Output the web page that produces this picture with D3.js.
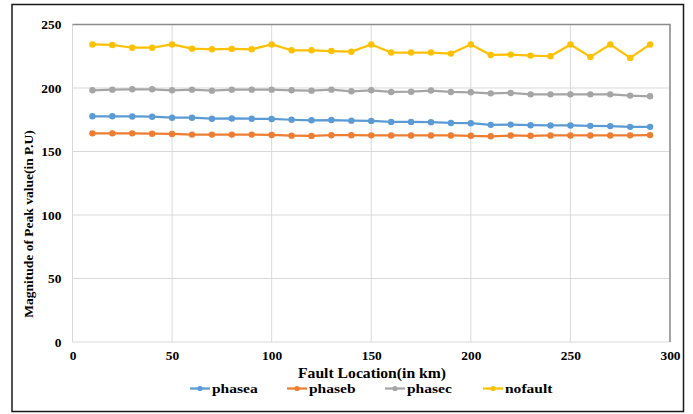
<!DOCTYPE html>
<html>
<head>
<meta charset="utf-8">
<script src="https://cdn.jsdelivr.net/npm/d3@7"></script>
<style>
  html, body { margin: 0; padding: 0; background: #fff; }
  svg { display: block; }
  text { font-family: "Liberation Serif", "Times New Roman", serif; font-weight: bold; fill: #000; }
</style>
</head>
<body>
<svg id="chart" width="693" height="414"></svg>
<script>
// Fault location along the line (km)
const faultKm = [10, 20, 30, 40, 50, 60, 70, 80, 90, 100, 110, 120, 130, 140, 150,
                 160, 170, 180, 190, 200, 210, 220, 230, 240, 250, 260, 270, 280, 290];

// Peak magnitude (P.U) for each case
const phasea = [177.7, 177.7, 177.6, 177.4, 176.6, 176.6, 175.8, 176.0, 175.8, 175.6, 175.0, 174.6, 174.8, 174.3, 174.1,
                173.3, 173.3, 173.1, 172.5, 172.3, 171.0, 171.2, 170.7, 170.5, 170.5, 170.2, 170.0, 169.4, 169.4];
const phaseb = [164.3, 164.3, 164.3, 164.0, 163.8, 163.3, 163.3, 163.3, 163.3, 163.0, 162.5, 162.3, 162.8, 162.8, 162.7,
                162.6, 162.6, 162.6, 162.6, 162.4, 162.0, 162.6, 162.4, 162.6, 162.6, 162.6, 162.6, 162.7, 162.9];
const phasec = [198.2, 198.7, 199.0, 199.0, 198.2, 198.7, 197.9, 198.7, 198.7, 198.7, 198.2, 197.9, 198.7, 197.4, 198.2,
                196.9, 197.1, 198.0, 196.9, 196.6, 195.8, 196.1, 195.0, 195.0, 195.0, 195.0, 195.0, 194.0, 193.5];
const nofault = [234.3, 233.9, 231.7, 231.7, 234.3, 231.0, 230.5, 230.8, 230.5, 234.3, 229.7, 229.7, 229.1, 228.6, 234.3,
                 227.9, 227.9, 227.9, 227.1, 234.3, 226.0, 226.3, 225.5, 225.0, 234.3, 224.5, 234.3, 223.7, 234.3];

const seriesNames = ["phasea", "phaseb", "phasec", "nofault"];
const seriesColors = ["#5B9BD5", "#ED7D31", "#A5A5A5", "#FFC000"];
const seriesValues = [phasea, phaseb, phasec, nofault];

const xTicks = [0, 50, 100, 150, 200, 250, 300];
const yTicks = [0, 50, 100, 150, 200, 250];

const svg = d3.select("#chart");

// Outer chart frame
svg.append("rect")
  .attr("x", 12).attr("y", 4.5).attr("width", 671.5).attr("height", 407)
  .attr("fill", "none").attr("stroke", "#1a1a1a").attr("stroke-width", 1.5);

const x = d3.scaleLinear().domain([0, 300]).range([72.5, 670]);
const y = d3.scaleLinear().domain([0, 250]).range([342, 24.5]);

// Gridlines
const grid = svg.append("g");
grid.selectAll("line.v").data(xTicks).join("line")
  .attr("x1", d => x(d)).attr("x2", d => x(d))
  .attr("y1", y(0)).attr("y2", y(250))
  .attr("stroke", "#d9d9d9").attr("stroke-width", 1);
grid.selectAll("line.h").data(yTicks).join("line")
  .attr("x1", x(0)).attr("x2", x(300))
  .attr("y1", d => y(d)).attr("y2", d => y(d))
  .attr("stroke", "#d9d9d9").attr("stroke-width", 1);

// Plot-area border on top and right
svg.append("path")
  .attr("d", `M${x(0)},${y(250)}H${x(300)}V${y(0)}`)
  .attr("fill", "none").attr("stroke", "#8c8c8c").attr("stroke-width", 1.5);

// Axes (labels only)
const xAxis = svg.append("g")
  .attr("transform", `translate(0,${y(0)})`)
  .call(d3.axisBottom(x).tickValues(xTicks).tickSize(0).tickPadding(0));
xAxis.attr("font-family", null).attr("font-size", null);
xAxis.select(".domain").remove();
xAxis.selectAll("text")
  .attr("y", 0).attr("dy", null)
  .attr("transform", "translate(0,18) scale(1.12,1)")
  .style("font-size", "12px").attr("fill", "#000");

const yAxis = svg.append("g")
  .attr("transform", `translate(${x(0)},0)`)
  .call(d3.axisLeft(y).tickValues(yTicks).tickSize(0).tickPadding(0));
yAxis.attr("font-family", null).attr("font-size", null);
yAxis.select(".domain").remove();
yAxis.selectAll(".tick text")
  .attr("x", 0).attr("dy", "0.35em")
  .attr("transform", "translate(-11,0) scale(1.12,1)")
  .style("font-size", "12px").attr("fill", "#000");

// Axis titles
svg.append("text")
  .attr("transform", `translate(372,378) scale(1.12,1)`)
  .attr("text-anchor", "middle")
  .style("font-size", "14px")
  .text("Fault Location(in km)");

svg.append("text")
  .attr("transform", "translate(33,224) rotate(-90)")
  .attr("text-anchor", "middle")
  .style("font-size", "13.5px")
  .text("Magnitude of Peak value(in P.U)");

// Series lines and markers
const line = d3.line().x((d, i) => x(faultKm[i])).y(d => y(d));
seriesValues.forEach((vals, s) => {
  const g = svg.append("g");
  g.append("path")
    .datum(vals)
    .attr("d", line)
    .attr("fill", "none")
    .attr("stroke", seriesColors[s])
    .attr("stroke-width", 2.25)
    .attr("stroke-linejoin", "round");
  g.selectAll("circle").data(vals).join("circle")
    .attr("cx", (d, i) => x(faultKm[i]))
    .attr("cy", d => y(d))
    .attr("r", 3.2)
    .attr("fill", seriesColors[s]);
});

// Legend
const legendX = [190, 287, 385, 483];
const legend = svg.append("g");
seriesNames.forEach((name, i) => {
  const lx = legendX[i];
  legend.append("line")
    .attr("x1", lx).attr("x2", lx + 20)
    .attr("y1", 388.5).attr("y2", 388.5)
    .attr("stroke", seriesColors[i]).attr("stroke-width", 2.25);
  legend.append("circle")
    .attr("cx", lx + 10).attr("cy", 388.5).attr("r", 2.6)
    .attr("fill", seriesColors[i]);
  legend.append("text")
    .attr("transform", `translate(${lx + 22},393) scale(1.15,1)`)
    .style("font-size", "13.5px")
    .text(name);
});
</script>
</body>
</html>
